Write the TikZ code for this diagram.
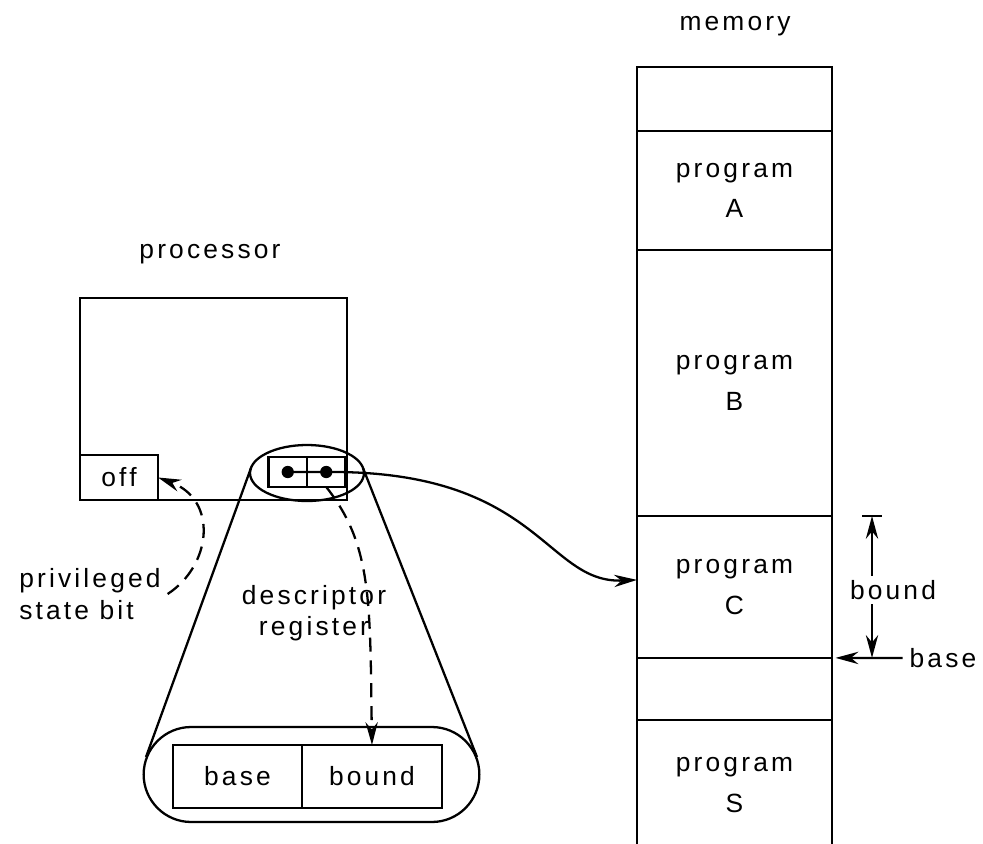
\documentclass[tikz,border=0pt]{standalone}
\usepackage{fontspec}
\setmainfont{Liberation Sans}[LetterSpace=12]
\usetikzlibrary{arrows.meta,positioning,shapes.geometric,shapes.misc}

\begin{document}
\begin{tikzpicture}[
    x=0.02cm, y=-0.02cm,
    >={Stealth[length=13pt,width=7pt]},
    line width=1.3pt,
    lbl/.style={
      font=\fontsize{15}{18}\selectfont,
      align=center
    },
    box/.style={
      draw,
      rectangle,
      outer sep=0pt,
      font=\fontsize{15}{18}\selectfont
    },
    cell/.style={
      box,
      align=center,
      minimum width=3.9cm,
      font=\fontsize{15}{23}\selectfont
    },
    dot/.style={
      circle,
      fill,
      inner sep=0pt,
      minimum size=7pt
    },
    dashline/.style={dash pattern=on 8pt off 5pt}
  ]
  \useasboundingbox (0,0) rectangle (983,844);

  % memory column
  \node[lbl] (memlbl) at (735,26) {memory};
  \node[cell, minimum height=1.28cm] (m0) at (734.5,99) {};
  \node[cell, minimum height=2.38cm, below=0pt of m0] (progA) {program\\A};
  \node[cell, minimum height=5.32cm, below=0pt of progA] (progB) {program\\B};
  \node[cell, minimum height=2.84cm, below=0pt of progB] (progC) {program\\C};
  \node[cell, minimum height=1.24cm, below=0pt of progC] (m4) {};
  \node[cell, minimum height=2.6cm, below=0pt of m4] (progS) {program\\S};

  % processor
  \node[lbl] (proclbl) at (210,254) {processor};
  \node[box, minimum width=5.34cm, minimum height=4.04cm] (proc) at (213.5,399) {};
  \node[box, minimum width=1.56cm, minimum height=0.9cm, anchor=south west] (off) at (proc.south west) {off};

  % descriptor register, small and enlarged
  \node[box, minimum width=0.77cm, minimum height=0.6cm] (rb) at (287.75,472) {};
  \node[box, minimum width=0.77cm, minimum height=0.6cm, right=0pt of rb] (rd) {};
  \node[dot] (d1) at (rb) {};
  \node[dot] (d2) at (rd) {};
  \node[draw, ellipse, minimum width=2.28cm, minimum height=1.12cm] (lens) at (307,473) {};

  \node[draw, rounded rectangle, minimum width=6.95cm, minimum height=1.9cm] (big) at (311.5,774.5) {};
  \node[box, minimum width=2.58cm, minimum height=1.26cm] (regbase) at (237.5,776.5) {base};
  \node[box, minimum width=2.8cm, minimum height=1.26cm, right=0pt of regbase] (regbound) {bound};

  \coordinate (tl1) at (251,468);
  \coordinate (tl2) at (146,757);
  \coordinate (tr1) at (363,468);
  \coordinate (tr2) at (477,757);
  \draw (tl1) -- (tl2);
  \draw (tr1) -- (tr2);

  % labels
  \node[lbl, align=left] (priv) at (90,594) {privileged\\state bit};
  \node[lbl] (desc) at (314,613) {descriptor\\register};

  % connectors
  \draw[->] (d1.center) -- (d2.center)
    .. controls (540,470) and (545,584) .. ([yshift=0.14cm]progC.west);
  \draw[->, dashline] (priv.east) .. controls (212,565) and (218,500) .. (off.east);
  \draw[->, dashline] (rd.south) .. controls (372,545) and (370,600) .. (regbound.north);

  % bound and base marks
  \coordinate (ctop) at (872,516);
  \coordinate (cbot) at (progC.south east -| ctop);
  \node[lbl, inner sep=2pt] (bndlbl) at (893,590) {bound};
  \node[lbl] (baselbl) at (943,658) {base};
  \draw ([xshift=-0.2cm]ctop) -- ([xshift=0.2cm]ctop);
  \draw[->] (bndlbl.north -| ctop) -- (ctop);
  \draw[->] (bndlbl.south -| ctop) -- (cbot);
  \draw[->, shorten >=2pt] (baselbl.west) -- (progC.south east);
\end{tikzpicture}
\end{document}
